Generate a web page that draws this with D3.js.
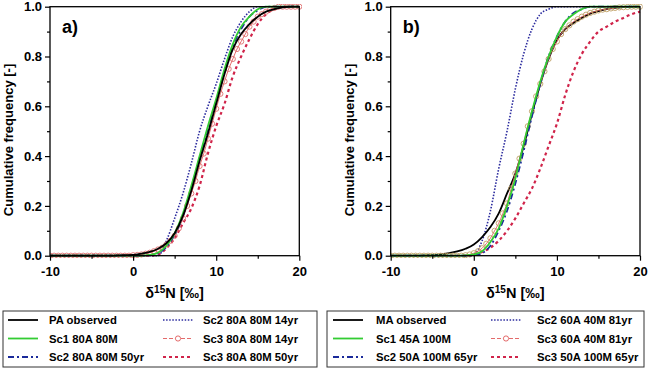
<!DOCTYPE html>
<html><head><meta charset="utf-8">
<script src="https://cdn.jsdelivr.net/npm/d3@7"></script>
<style>
body{margin:0;background:#fff}
text{font-family:"Liberation Sans",Arial,sans-serif;font-weight:bold;fill:#000}
</style>
</head><body>
<svg id="c" width="648" height="368"></svg>
<script>
// ---------- data ----------
const xGrid = [-10,-9,-8,-7,-6,-5,-4,-3,-2,-1,0,1,2,3,4,5,6,7,8,9,10,11,12,13,14,15,16,17,18,19,20];
const xHalf = [-10,-9.5,-9,-8.5,-8,-7.5,-7,-6.5,-6,-5.5,-5,-4.5,-4,-3.5,-3,-2.5,-2,-1.5,-1,-0.5,
  0,0.5,1,1.5,2,2.5,3,3.5,4,4.5,5,5.5,6,6.5,7,7.5,8,8.5,9,9.5,10,10.5,11,11.5,12,12.5,13,13.5,14,14.5,
  15,15.5,16,16.5,17,17.5,18,18.5,19,19.5,20];

// panel a
const paObserved = [0,0,0,0,0,0,0,0,0.001,0.002,0.003,0.008,0.015,0.028,0.05,0.09,0.16,0.26,0.38,0.49,0.61,0.73,0.83,0.89,0.93,0.96,0.98,0.99,0.997,1,1];
const sc1A80M80 = [0,0,0,0,0,0,0,0,0,0,0,0,0.003,0.012,0.04,0.09,0.17,0.28,0.4,0.52,0.63,0.75,0.85,0.92,0.96,0.99,1,1,1,1,1];
const sc2A80M80y50 = [0,0,0,0,0,0,0,0,0,0,0,0,0.002,0.01,0.035,0.085,0.16,0.27,0.39,0.51,0.62,0.74,0.84,0.91,0.96,0.985,1,1,1,1,1];
const sc2A80M80y14 = [0,0,0,0,0,0,0,0,0,0,0,0,0,0,0.06,0.15,0.25,0.37,0.5,0.6,0.69,0.79,0.88,0.94,0.98,1,1,1,1,1,1];
const sc3A80M80y14 = [0,0,0,0,0,0,0,0,0,0,0,0,0,0,0,0,0,0,0,0,
  0.002,0.003,0.005,0.008,0.012,0.018,0.025,0.032,0.045,0.06,0.08,0.11,0.15,0.2,0.25,0.3,0.36,0.41,0.47,0.53,
  0.59,0.65,0.7,0.75,0.79,0.83,0.86,0.89,0.92,0.94,0.96,0.97,0.98,0.99,0.995,1,1,1,1,1,1];
const sc3A80M80y50 = [0,0,0,0,0,0,0,0,0,0,0,0,0,0.005,0.03,0.07,0.13,0.19,0.28,0.41,0.52,0.61,0.72,0.8,0.87,0.93,0.97,0.99,1,1,1];

// panel b
const maObserved = [0,0,0,0,0.001,0.002,0.005,0.01,0.017,0.028,0.045,0.075,0.115,0.17,0.25,0.33,0.44,0.57,0.69,0.79,0.866,0.91,0.935,0.955,0.972,0.982,0.99,0.995,0.998,1,1];
const sc1A45M100 = [0,0,0,0,0,0,0,0,0,0.001,0.005,0.018,0.055,0.11,0.2,0.31,0.45,0.58,0.7,0.8,0.88,0.94,0.97,0.99,1,1,1,1,1,1,1];
const sc2A50M100y65 = [0,0,0,0,0,0,0,0,0,0,0.002,0.01,0.04,0.1,0.18,0.29,0.42,0.56,0.69,0.8,0.88,0.94,0.975,0.99,1,1,1,1,1,1,1];
const sc2A60M40y81 = [0,0,0,0,0,0,0,0,0,0,0.005,0.06,0.18,0.35,0.5,0.67,0.81,0.91,0.97,0.99,1,1,1,1,1,1,1,1,1,1,1];
const sc3A60M40y81 = [0,0,0,0,0,0,0,0,0,0,0,0,0,0,0,0,0,0,
  0.002,0.005,0.01,0.018,0.03,0.048,0.07,0.1,0.13,0.17,0.21,0.27,0.33,0.39,0.45,0.52,0.58,0.64,0.69,0.74,0.79,0.83,
  0.86,0.89,0.91,0.925,0.94,0.95,0.96,0.968,0.975,0.98,0.985,0.988,0.99,0.993,0.995,0.997,0.998,0.999,1,1,1];
const sc3A50M100y65 = [0,0,0,0,0,0,0,0,0,0,0.003,0.015,0.032,0.06,0.1,0.15,0.21,0.27,0.35,0.44,0.53,0.645,0.74,0.81,0.86,0.9,0.92,0.94,0.955,0.97,0.98];

const yTicks = [0,0.2,0.4,0.6,0.8,1.0];
const yMinor = [0.1,0.3,0.5,0.7,0.9];
const xTicks = [-10,0,10,20];
const xMinor = [-5,5,15];

const panelA = {
  tag: "a)",
  series: [
    {name:"Sc3 80A 80M 50yr", x:xGrid, y:sc3A80M80y50, style:"reddash"},
    {name:"Sc2 80A 80M 14yr", x:xGrid, y:sc2A80M80y14, style:"bluedot"},
    {name:"Sc3 80A 80M 14yr", x:xHalf, y:sc3A80M80y14, style:"redcirc"},
    {name:"Sc2 80A 80M 50yr", x:xGrid, y:sc2A80M80y50, style:"bluedashdot"},
    {name:"Sc1 80A 80M", x:xGrid, y:sc1A80M80, style:"green"},
    {name:"PA observed", x:xGrid, y:paObserved, style:"black"}
  ],
  legend: [["PA observed","black"],["Sc1 80A 80M","green"],["Sc2 80A 80M 50yr","bluedashdot"],
           ["Sc2 80A 80M 14yr","bluedot"],["Sc3 80A 80M 14yr","redcirc"],["Sc3 80A 80M 50yr","reddash"]]
};
const panelB = {
  tag: "b)",
  series: [
    {name:"Sc3 50A 100M 65yr", x:xGrid, y:sc3A50M100y65, style:"reddash"},
    {name:"Sc2 60A 40M 81yr", x:xGrid, y:sc2A60M40y81, style:"bluedot"},
    {name:"MA observed", x:xGrid, y:maObserved, style:"black"},
    {name:"Sc3 60A 40M 81yr", x:xHalf, y:sc3A60M40y81, style:"redcirc"},
    {name:"Sc2 50A 100M 65yr", x:xGrid, y:sc2A50M100y65, style:"bluedashdot"},
    {name:"Sc1 45A 100M", x:xGrid, y:sc1A45M100, style:"green"}
  ],
  legend: [["MA observed","black"],["Sc1 45A 100M","green"],["Sc2 50A 100M 65yr","bluedashdot"],
           ["Sc2 60A 40M 81yr","bluedot"],["Sc3 60A 40M 81yr","redcirc"],["Sc3 50A 100M 65yr","reddash"]]
};

const styles = {
  black:{stroke:"#000", w:1.8, dash:null},
  green:{stroke:"#33cc33", w:1.8, dash:null},
  bluedashdot:{stroke:"#1a2a9a", w:1.8, dash:"6,3,2,3"},
  bluedot:{stroke:"#2b2b9e", w:1.6, dash:"1.5,1.6"},
  redcirc:{stroke:"#e05a5a", w:0.9, dash:null},
  reddash:{stroke:"#d0244a", w:2.2, dash:"3,3"}
};

const svg = d3.select("#c");

function drawPanel(p, L, circleColor, leg) {
  const x = d3.scaleLinear().domain([-10,20]).range([L, L+249.3]);
  const y = d3.scaleLinear().domain([0,1]).range([255.7, 6.7]);
  const g = svg.append("g");
  const clipId = "clip" + p.tag[0];
  svg.append("clipPath").attr("id", clipId).append("rect")
    .attr("x", L).attr("y", 4).attr("width", 252).attr("height", 254);
  const line = d3.line().x(d=>x(d[0])).y(d=>y(d[1])).curve(d3.curveMonotoneX);
  const plot = g.append("g").attr("clip-path", `url(#${clipId})`);
  p.series.forEach(s => {
    const st = styles[s.style];
    const pts = s.x.map((v,i)=>[v, s.y[i]]);
    plot.append("path").attr("d", line(pts)).attr("fill","none")
      .attr("stroke", st.stroke).attr("stroke-width", st.w)
      .attr("stroke-dasharray", st.dash);
    if (s.style === "redcirc") {
      plot.selectAll(null).data(pts).join("circle")
        .attr("cx", d=>x(d[0])).attr("cy", d=>y(d[1])).attr("r", 2.6)
        .attr("fill","none").attr("stroke", circleColor).attr("stroke-width", 0.9);
    }
  });
  // frame
  g.append("rect").attr("x", L).attr("y", 6.7).attr("width", 249.3).attr("height", 249)
    .attr("fill","none").attr("stroke","#000").attr("stroke-width",1.3);
  // axes
  const ax = g.append("g").attr("transform", `translate(${L},0)`)
    .call(d3.axisLeft(y).tickValues(yTicks).tickFormat(d3.format(".1f")).tickSize(5).tickPadding(3));
  g.append("g").attr("transform", `translate(${L},0)`)
    .call(d3.axisLeft(y).tickValues(yMinor).tickFormat("").tickSize(3));
  const bx = g.append("g").attr("transform", `translate(0,255.7)`)
    .call(d3.axisBottom(x).tickValues(xTicks).tickFormat(d=>d).tickSize(5).tickPadding(6));
  g.append("g").attr("transform", `translate(0,255.7)`)
    .call(d3.axisBottom(x).tickValues(xMinor).tickFormat("").tickSize(3));
  g.selectAll(".domain").remove();
  g.selectAll(".tick line").attr("stroke","#000").attr("stroke-width",1.2);
  g.selectAll(".tick text").style("font-size","13px").style("font-family","'Liberation Sans',Arial,sans-serif").style("font-weight","bold").attr("fill","#000");
  bx.selectAll(".tick text").attr("dy","0.75em");
  // panel tag
  g.append("text").attr("x", L+12).attr("y", 33).style("font-size","18px").text(p.tag);
  // y label
  g.append("text").attr("transform", `translate(${L-37},140) rotate(-90)`)
    .attr("text-anchor","middle").style("font-size","13px").text("Cumulative frequency [-]");
  // x label
  const xl = g.append("text").attr("x", L+124.6).attr("y", 298).attr("text-anchor","middle").style("font-size","14.5px");
  xl.append("tspan").text("δ");
  xl.append("tspan").attr("dy", -5).style("font-size","10px").text("15");
  xl.append("tspan").attr("dy", 5).text("N [‰]");
  // legend
  const lg = svg.append("g");
  lg.append("rect").attr("x", leg.x0).attr("y", 311).attr("width", leg.w).attr("height", 56)
    .attr("fill","#fff").attr("stroke","#333").attr("stroke-width",1);
  p.legend.forEach((it, i) => {
    const col = Math.floor(i/3), row = i%3;
    const ly = 320 + row*18.5;
    const lx0 = col ? leg.c2 : leg.c1;
    const tx = col ? leg.t2 : leg.t1;
    const st = styles[it[1]];
    lg.append("line").attr("x1", lx0).attr("x2", lx0+30).attr("y1", ly).attr("y2", ly)
      .attr("stroke", st.stroke).attr("stroke-width", st.w)
      .attr("stroke-dasharray", it[1]==="redcirc" ? "4,2" : st.dash);
    if (it[1]==="redcirc") {
      lg.append("circle").attr("cx", lx0+15).attr("cy", ly).attr("r", 2.6)
        .attr("fill","#fff").attr("stroke", "#e05a5a").attr("stroke-width", 0.9);
    }
    lg.append("text").attr("x", tx).attr("y", ly+4).style("font-size","11.3px").text(it[0]);
  });
}

drawPanel(panelA, 50, "#e07070", {x0:3, w:314, c1:8, t1:49, c2:163, t2:203});
drawPanel(panelB, 390.7, "#c0a066", {x0:327, w:317, c1:333, t1:376, c2:491, t2:537});
</script>
</body></html>
